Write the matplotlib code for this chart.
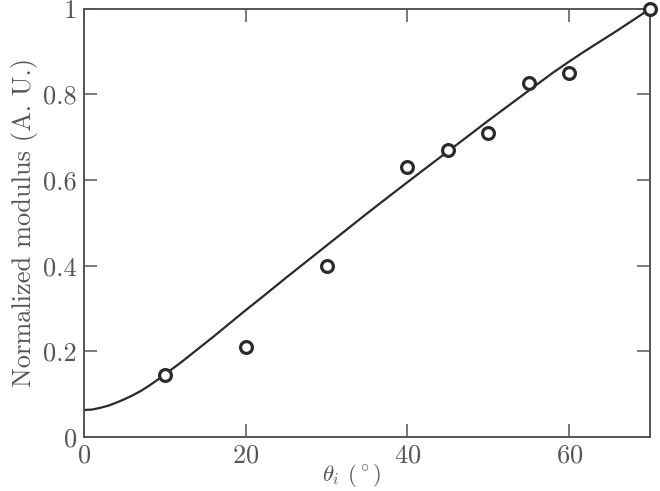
import matplotlib as mpl

mpl.use("Agg")

import matplotlib.pyplot as plt
from matplotlib.ticker import FormatStrFormatter

plt.rcParams["font.family"] = "serif"
plt.rcParams["font.serif"] = ["cmr10"]
plt.rcParams["mathtext.fontset"] = "cm"
plt.rcParams["axes.formatter.use_mathtext"] = True

INK = "#2a2a2a"
GREY = "#555555"

# measured points
theta_pts = [10, 20, 30, 40, 45, 50, 55, 60, 70]
mod_pts = [0.145, 0.21, 0.40, 0.63, 0.671, 0.71, 0.826, 0.85, 1.0]

# model curve
theta_fit = [0, 1, 2, 3, 4, 5, 6, 7, 8, 9, 10, 12, 14, 16, 18, 20, 22, 25, 28,
             30, 32, 35, 38, 40, 42, 45, 48, 50, 52, 55, 58, 60, 62, 64, 66, 68, 70]
mod_fit = [0.063, 0.064, 0.068, 0.073, 0.080, 0.088, 0.097, 0.107, 0.119, 0.132,
           0.146, 0.174, 0.204, 0.234, 0.265, 0.296, 0.326, 0.372, 0.417,
           0.447, 0.477, 0.522, 0.566, 0.595, 0.624, 0.667, 0.710, 0.739,
           0.767, 0.809, 0.851, 0.877, 0.902, 0.926, 0.950, 0.975, 1.0]

fig = plt.figure(figsize=(6.6, 4.91), dpi=100)
ax = fig.add_axes([0.127, 0.110, 0.858, 0.872])

ax.plot(theta_fit, mod_fit, color=INK, lw=1.6, zorder=2)
ax.plot(theta_pts, mod_pts, "o", ms=8.5, mfc="white", mec=INK, mew=2.3,
        clip_on=False, zorder=3)

ax.set_xlim(0, 70)
ax.set_ylim(0, 1)
ax.set_xticks([0, 20, 40, 60])
ax.set_yticks([0, 0.2, 0.4, 0.6, 0.8, 1])
ax.yaxis.set_major_formatter(FormatStrFormatter("%g"))

ax.tick_params(direction="in", length=9.5, width=1.1, colors=GREY, labelcolor=GREY,
               labelsize=19, top=True, right=True, pad=5)
for s in ax.spines.values():
    s.set_color(GREY)
    s.set_linewidth(1.4)

ax.set_xlabel(r"$\theta_i$ ($^\circ$)", fontsize=16.5, color=GREY)
ax.xaxis.set_label_coords(0.473, -0.058)
ax.set_ylabel("Normalized modulus (A. U.)", fontsize=19, color=GREY, labelpad=4)

fig.savefig("out.png", dpi=100, facecolor="white")
